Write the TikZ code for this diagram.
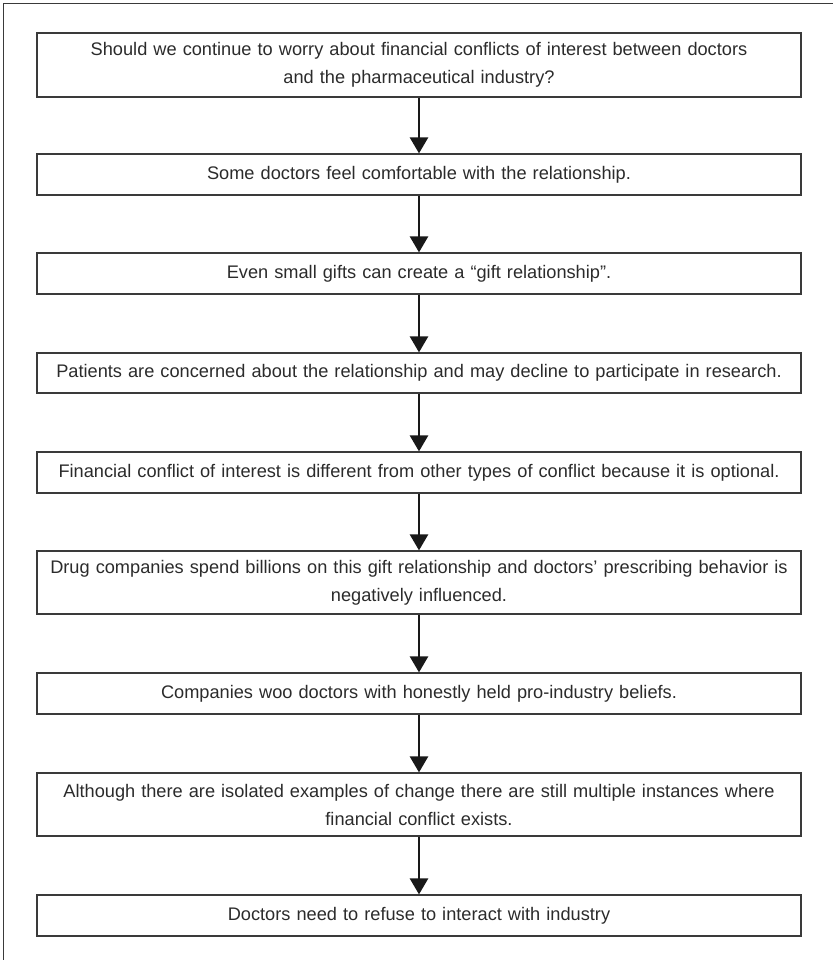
\documentclass[tikz,border=0pt]{standalone}
\usepackage{fontspec}
\setmainfont{Liberation Sans}
\usetikzlibrary{arrows.meta}
\definecolor{boxgray}{HTML}{3A3A3A}
\definecolor{textgray}{HTML}{2B2B2B}
\tikzset{
  stepbox/.style={draw=boxgray, line width=1.2pt, minimum width=764pt, text width=756pt,
    align=center, inner sep=0pt, text=textgray, font=\fontsize{18.2}{28}\selectfont},
  flowarrow/.style={-{Triangle[width=18pt,length=16pt]}, line width=2.6pt, draw=black!90}
}

\begin{document}
\begin{tikzpicture}[x=1pt,y=-1pt]
\useasboundingbox (0,0) rectangle (833,960);
\draw[line width=1pt, draw=boxgray] (3,960) -- (3,4) -- (833,4);
\node[stepbox, minimum height=64pt] (worry) at (419,65) {Should we continue to worry about financial conflicts of interest between doctors\\and the pharmaceutical industry?};
\node[stepbox, minimum height=41pt] (comfort) at (419,174.5) {Some doctors feel comfortable with the relationship.};
\node[stepbox, minimum height=41pt] (gifts) at (419,273.5) {Even small gifts can create a “gift relationship”.};
\node[stepbox, minimum height=40pt] (patients) at (419,373) {Patients are concerned about the relationship and may decline to participate in research.};
\node[stepbox, minimum height=41pt] (optional) at (419,472.5) {Financial conflict of interest is different from other types of conflict because it is optional.};
\node[stepbox, minimum height=63pt] (billions) at (419,582.5) {Drug companies spend billions on this gift relationship and doctors’ prescribing behavior is\\negatively influenced.};
\node[stepbox, minimum height=41pt] (woo) at (419,693.5) {Companies woo doctors with honestly held pro-industry beliefs.};
\node[stepbox, minimum height=63pt] (change) at (419,804.5) {Although there are isolated examples of change there are still multiple instances where\\financial conflict exists.};
\node[stepbox, minimum height=41pt] (refuse) at (419,915.5) {Doctors need to refuse to interact with industry};
\draw[flowarrow] (worry.south) -- (comfort.north);
\draw[flowarrow] (comfort.south) -- (gifts.north);
\draw[flowarrow] (gifts.south) -- (patients.north);
\draw[flowarrow] (patients.south) -- (optional.north);
\draw[flowarrow] (optional.south) -- (billions.north);
\draw[flowarrow] (billions.south) -- (woo.north);
\draw[flowarrow] (woo.south) -- (change.north);
\draw[flowarrow] (change.south) -- (refuse.north);
\end{tikzpicture}
\end{document}
